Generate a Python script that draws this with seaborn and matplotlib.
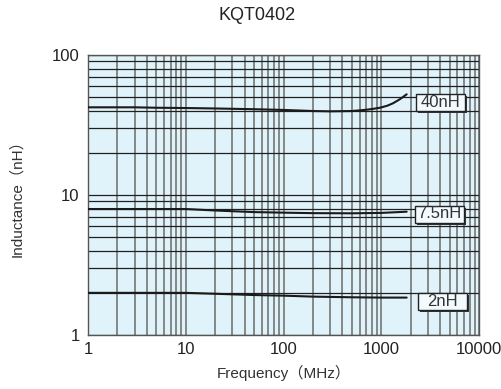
import matplotlib
matplotlib.use("Agg")
import matplotlib.pyplot as plt
import matplotlib.patheffects as pe
from matplotlib.patches import Rectangle
import seaborn as sns
import pandas as pd
import numpy as np
from matplotlib.ticker import LogLocator, NullFormatter

title = "KQT0402"
xlabel = "Frequency（MHz）"
ylabel = "Inductance（nH）"

freq_40 = [1, 3, 5, 10, 20, 50, 100, 200, 300, 500, 650, 800, 970, 1150, 1320, 1550, 1820]
ind_40 = [42.3, 42.3, 42.0, 41.8, 41.5, 41.0, 40.5, 39.8, 39.6, 39.8, 40.4, 41.1, 42.0, 43.4, 45.2, 48.3, 52.4]
freq_75 = [1, 2, 5, 10, 20, 50, 100, 200, 500, 1000, 1500, 1820]
ind_75 = [7.94, 7.94, 7.94, 7.94, 7.75, 7.55, 7.48, 7.42, 7.40, 7.45, 7.55, 7.6]
freq_2 = [1, 2, 5, 10, 20, 50, 100, 200, 500, 1000, 1500, 1820]
ind_2 = [2.0, 2.0, 2.0, 2.0, 1.97, 1.93, 1.91, 1.88, 1.86, 1.85, 1.85, 1.85]
series_names = ["40nH", "7.5nH", "2nH"]

df = pd.concat([
    pd.DataFrame({"f": freq_40, "L": ind_40, "s": series_names[0]}),
    pd.DataFrame({"f": freq_75, "L": ind_75, "s": series_names[1]}),
    pd.DataFrame({"f": freq_2, "L": ind_2, "s": series_names[2]}),
])

sns.set_theme(style="white")
plt.rcParams['font.family'] = ['Liberation Sans', 'Noto Sans CJK JP', 'DejaVu Sans']

fig = plt.figure(figsize=(5.02, 3.89), dpi=100)
ax_w, ax_h = (479 - 88), (335 - 55)
ax = fig.add_axes([88/502, 1-335/389, ax_w/502, ax_h/389])
ax.set_facecolor("#e1f3fa")

sns.lineplot(data=df, x="f", y="L", hue="s", units="s", estimator=None,
             palette=["#1a1a1a"]*3, linewidth=1.5, legend=False, ax=ax, zorder=5)

ax.set_xscale("log")
ax.set_yscale("log")
ax.set_xlim(1, 10000)
ax.set_ylim(1, 100)

ax.xaxis.set_minor_locator(LogLocator(base=10, subs=np.arange(2, 10), numticks=10))
ax.yaxis.set_minor_locator(LogLocator(base=10, subs=np.arange(2, 10), numticks=10))
ax.xaxis.set_minor_formatter(NullFormatter())
ax.yaxis.set_minor_formatter(NullFormatter())
ax.set_xticks([1, 10, 100, 1000, 10000])
ax.set_xticklabels(["1", "10", "100", "1000", "10000"])
ax.set_yticks([1, 10, 100])
ax.set_yticklabels(["1", "10", "100"])

ax.grid(True, which="both", axis="x", color="#6a6a6a", linewidth=1.1)
ax.grid(True, which="both", axis="y", color="#202020", linewidth=0.9)
ax.set_axisbelow(True)
for sp in ax.spines.values():
    sp.set_color("#555555")
    sp.set_linewidth(1.0)

ax.tick_params(axis="both", which="both", length=0, labelsize=12, colors="#222222")
ax.tick_params(axis="x", pad=5)
ax.tick_params(axis="y", pad=6)

ax.set_xlabel(xlabel, fontsize=11, color="#333333", labelpad=6)
ax.set_ylabel(ylabel, fontsize=11, color="#333333", labelpad=20)
fig.suptitle(title, x=257/502, y=1-15/389, va="center", fontsize=13, color="#222222")

# label boxes (pixel layout of the annotation boxes)
box_cx = [440.3, 439.5, 442.5]
box_cy = [102.3, 214.0, 301.0]
box_w, box_h = 49, 17
for name, cx, cy in zip(series_names, box_cx, box_cy):
    ax_x = (cx - 88) / ax_w
    ax_y = (335 - cy) / ax_h
    rect = Rectangle((ax_x - box_w/2/ax_w, ax_y - box_h/2/ax_h), box_w/ax_w, box_h/ax_h,
                     transform=ax.transAxes, facecolor="#f2fafd", edgecolor="#222222",
                     linewidth=1.0, zorder=6)
    rect.set_path_effects([pe.SimplePatchShadow(offset=(1.6, -1.6), shadow_rgbFace="#333333", alpha=1.0),
                           pe.Normal()])
    ax.add_patch(rect)
    ax.text(ax_x, ax_y, name, transform=ax.transAxes, ha="center", va="center",
            fontsize=12, color="#333333", zorder=7)

fig.savefig("out.png", dpi=100)
